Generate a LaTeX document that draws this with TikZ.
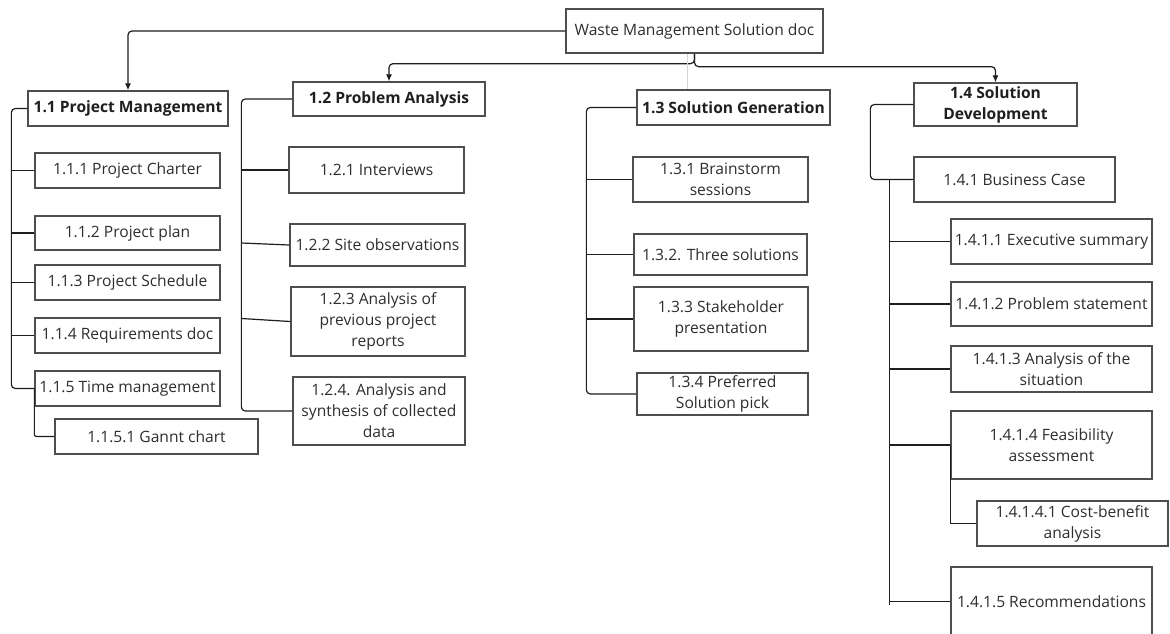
\documentclass[tikz,border=0pt]{standalone}
\usepackage{fontspec}
\setmainfont{Open Sans}
\usetikzlibrary{arrows.meta}
\definecolor{boxline}{HTML}{4E4E4E}
\definecolor{wire}{HTML}{1E1E1E}
\definecolor{txt}{HTML}{2E2E2E}
\definecolor{faintline}{HTML}{D4D4D4}
\begin{document}
\begin{tikzpicture}[x=1pt,y=-1pt,
  box/.style={draw=boxline, line width=1.3pt, fill=white, inner sep=0pt,
    align=center, text=txt, font=\fontsize{15.6}{21}\selectfont},
  head/.style={box, text=black!88, font=\fontsize{15.6}{21}\selectfont\bfseries},
  sz/.style 2 args={minimum width=#1pt, minimum height=#2pt},
  wire/.style={draw=wire, line width=1.2pt, rounded corners=4pt},
  arrow/.style={wire, -{Latex[length=7pt,width=6pt]}},
  faint/.style={draw=faintline, line width=0.8pt},
]
\fill[white] (0,0) rectangle (1170,633);
\useasboundingbox (0,0) rectangle (1170,633);

% top level
\node[box, sz={257}{44}] (root) at (694.5,31) {Waste Management Solution doc};

\node[head, sz={200}{35}] (n11) at (128,108.5) {1.1 Project Management};
\node[head, sz={192}{34}] (n12) at (389,99) {1.2 Problem Analysis};
\node[head, sz={193}{35}] (n13) at (733.5,107.5) {1.3 Solution Generation};
\node[head, sz={163}{43}] (n14) at (995.5,104.5) {1.4 Solution\\Development};

% 1.1 branch
\node[box, sz={185}{35}] (n111) at (127.5,170.5) {1.1.1 Project Charter};
\node[box, sz={185}{34}] (n112) at (127.5,233) {1.1.2 Project plan};
\node[box, sz={185}{35}] (n113) at (127.5,282.5) {1.1.3 Project Schedule};
\node[box, sz={185}{35}] (n114) at (127.5,335.5) {1.1.4 Requirements doc};
\node[box, sz={185}{35}] (n115) at (127.5,388.5) {1.1.5 Time management};
\node[box, sz={203}{35}] (n1151) at (156.5,436.5) {1.1.5.1 Gannt chart};

% 1.2 branch
\node[box, sz={175}{46}] (n121) at (376.5,170) {1.2.1 Interviews};
\node[box, sz={175}{42}] (n122) at (377.5,245) {1.2.2 Site observations};
\node[box, sz={174}{69}] (n123) at (378,321.5) {1.2.3 Analysis of\\previous project\\reports};
\node[box, sz={172}{68}] (n124) at (379,411) {1.2.4. Analysis and\\synthesis of collected\\data};

% 1.3 branch
\node[box, sz={175}{45}] (n131) at (720.5,179.5) {1.3.1 Brainstorm\\sessions};
\node[box, sz={173}{41}] (n132) at (720.5,254.5) {1.3.2. Three solutions};
\node[box, sz={174}{64}] (n133) at (721,319) {1.3.3 Stakeholder\\presentation};
\node[box, sz={171}{42}] (n134) at (722.5,394) {1.3.4 Preferred\\Solution pick};

% 1.4 branch
\node[box, sz={201}{45}] (n141) at (1014.5,179.5) {1.4.1 Business Case};
\node[box, sz={201}{45}] (n1411) at (1051.5,241.5) {1.4.1.1 Executive summary};
\node[box, sz={201}{44}] (n1412) at (1051.5,304) {1.4.1.2 Problem statement};
\node[box, sz={201}{46}] (n1413) at (1051.5,369) {1.4.1.3 Analysis of the\\situation};
\node[box, sz={201}{68}] (n1414) at (1051.5,445) {1.4.1.4 Feasibility\\assessment};
\node[box, sz={191}{45}] (n14141) at (1072.5,523.5) {1.4.1.4.1 Cost-benefit\\analysis};
\node[box, sz={201}{69}] (n1415) at (1051.5,601.5) {1.4.1.5 Recommendations};

% connectors from the root
\draw[arrow] (root.west) -| (n11.north);
\draw[arrow] (root.south) -- ++(0,10) -| (n12.north);
\draw[arrow] (root.south) -- ++(0,13) -| (n14.north);
\draw[faint] ([xshift=-7pt]root.south) -- ([xshift=-7pt]root.south |- n13.north);

% 1.1 trunk and children
\coordinate (k11) at ([xshift=-16pt]n11.west);
\draw[wire] (n11.west) -- (k11) |- (n115.west);
\foreach \c in {n111,n112,n113,n114}
  \draw[wire] (\c.west) -- (\c.west -| k11);
\draw[wire, rounded corners=2pt] (n115.west) |- (n1151.west);

% 1.2 trunk and children
\coordinate (k12) at ([xshift=-51pt]n12.west);
\draw[wire] (n12.west) -- (k12) |- (n124.west);
\draw[wire] (n121.west) -- (n121.west -| k12);
\draw[wire] (n122.west) -- ([yshift=2pt]n122.west -| k12);
\draw[wire] (n123.west) -- ([yshift=3pt]n123.west -| k12);

% 1.3 trunk and children
\coordinate (k13) at ([xshift=-50pt]n13.west);
\draw[wire] (n13.west) -- (k13) |- (n134.west);
\foreach \c in {n131,n132,n133}
  \draw[wire] (\c.west) -- (\c.west -| k13);

% 1.4 trunk, business case and its parts
\coordinate (k14) at ([xshift=-43pt]n14.west);
\draw[wire] (n14.west) -- (k14) |- (n141.west);
\coordinate (k141) at ([xshift=-24pt]n141.west);
\draw[wire, rounded corners=0pt] (k141) -- ([yshift=-3pt]k141 |- n1415.west);
\foreach \c in {n1411,n1412,n1413,n1414,n1415}
  \draw[wire] (\c.west) -- (\c.west -| k141);
\draw[wire, rounded corners=0pt] (n1414.west) |- (n14141.west);
\end{tikzpicture}
\end{document}
